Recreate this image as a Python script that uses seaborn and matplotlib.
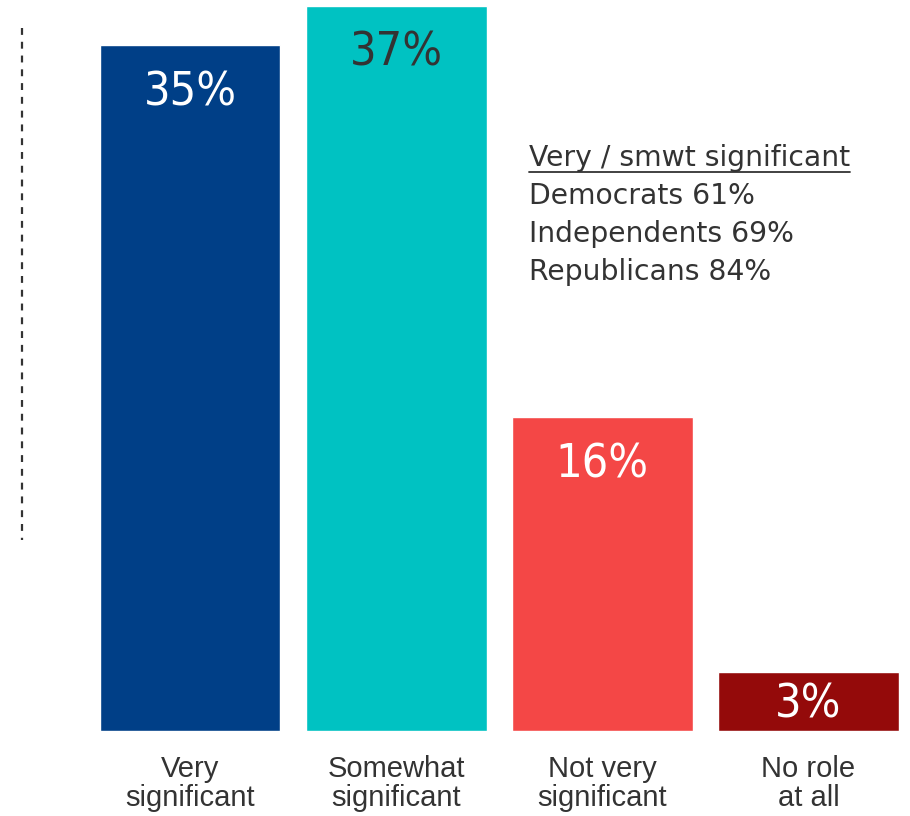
import matplotlib
matplotlib.use("Agg")
import matplotlib.pyplot as plt
from matplotlib.lines import Line2D
import seaborn as sns
import pandas as pd

# Survey responses
categories = ["Very\nsignificant", "Somewhat\nsignificant", "Not very\nsignificant", "No role\nat all"]
shares = [35, 37, 16, 3]
bar_colors = ["#003F87", "#00C2C2", "#F44746", "#940A0A"]
label_colors = ["#FFFFFF", "#333333", "#FFFFFF", "#FFFFFF"]

note_title = "Very / smwt significant"
note_lines = ["Democrats 61%", "Independents 69%", "Republicans 84%"]

sns.set_theme(style="white")
plt.rcParams["font.family"] = ["DejaVu Sans"]

df = pd.DataFrame({"category": categories, "share": shares})

W, H = 910, 816
DPI = 100
PX2PT = 72 / DPI
fig = plt.figure(figsize=(W / DPI, H / DPI), dpi=DPI)
ax = fig.add_axes([0, 85 / H, 1, (H - 85) / H])

sns.barplot(data=df, x="category", y="share", hue="category",
            palette=bar_colors, legend=False, width=0.877,
            saturation=1, ax=ax)

px_per_unit = 206.17
px_per_pct = 19.6
xmin = -190 / px_per_unit
ax.set_xlim(xmin, xmin + W / px_per_unit)
ax.set_ylim(0, (H - 85) / px_per_pct)

for s in ax.spines.values():
    s.set_visible(False)
ax.set_yticks([])
ax.set_xlabel("")
ax.set_ylabel("")
ax.tick_params(axis="x", length=0, pad=17)
for t in ax.get_xticklabels():
    t.set_fontfamily(["Liberation Sans", "DejaVu Sans"])
    t.set_fontsize(21)
    t.set_color("#333333")
    t.set_linespacing(1.05)
    t.set_verticalalignment("top")

# value labels inside bar tops (centred when the bar is short)
for i, (v, c) in enumerate(zip(shares, label_colors)):
    drop_px = min(60, v * px_per_pct / 2 + 16)
    ax.annotate(f"{v}%", xy=(i, v), xytext=(0, -drop_px * PX2PT),
                textcoords="offset points", ha="center", va="baseline",
                fontsize=33.5, fontstretch="condensed", color=c)

# dashed divider on the left
fig.add_artist(Line2D([22 / W, 22 / W], [1 - 28 / H, 1 - 540 / H],
                      transform=fig.transFigure, color="#333333",
                      linestyle=(0, (3.1, 3.1)), linewidth=1.6))

# side note
title = fig.text(529 / W, 1 - 158 / H, note_title, fontsize=20.3,
                 color="#333333", va="center", ha="left")
for k, line in enumerate(note_lines):
    fig.text(529 / W, 1 - (196 + 38 * k) / H, line, fontsize=20.3,
             color="#333333", va="center", ha="left")

fig.canvas.draw()
bb = title.get_window_extent()
fig.add_artist(Line2D([bb.x0 / W, bb.x1 / W], [(H - 172) / H, (H - 172) / H],
                      transform=fig.transFigure, color="#333333", linewidth=1.3))

fig.savefig("out.png", dpi=DPI)
